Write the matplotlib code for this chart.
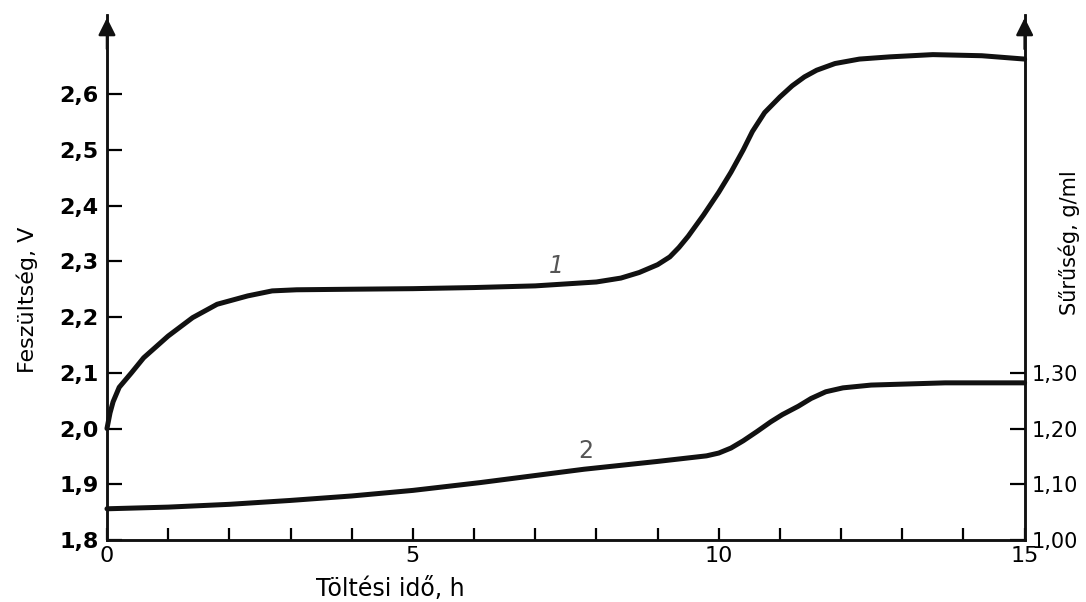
import matplotlib
matplotlib.use('Agg')
from matplotlib import pyplot as plt

plt.rcParams['font.family'] = ['DejaVu Sans']

# curve 1: cell voltage (V) vs charging time (h)
time_voltage = [0, 0.05, 0.1, 0.2, 0.4, 0.6, 1.0, 1.4, 1.8, 2.3, 2.7, 3.1, 4, 5, 6, 7, 8,
                8.4, 8.7, 9.0, 9.2, 9.35, 9.5, 9.75, 10.0, 10.2, 10.4, 10.55, 10.75, 11.0,
                11.2, 11.4, 11.6, 11.9, 12.3, 12.8, 13.5, 14.3, 15]
voltage = [2.00, 2.028, 2.048, 2.074, 2.10, 2.127, 2.166, 2.199, 2.223, 2.238, 2.247, 2.249,
           2.25, 2.251, 2.253, 2.256, 2.263, 2.270, 2.280, 2.294, 2.308, 2.325, 2.345, 2.383,
           2.424, 2.46, 2.50, 2.533, 2.567, 2.595, 2.615, 2.631, 2.643, 2.655, 2.663, 2.667,
           2.671, 2.669, 2.663]

# curve 2: electrolyte density (g/ml) vs charging time (h)
time_density = [0, 1, 2, 3, 4, 5, 6.1, 7.8, 9.0, 9.8, 10.0, 10.2, 10.4, 10.63, 10.85,
                11.04, 11.3, 11.51, 11.75, 12.03, 12.49, 13.7, 15]
density = [1.056, 1.059, 1.064, 1.071, 1.079, 1.089, 1.103, 1.127, 1.141, 1.151, 1.156,
           1.165, 1.178, 1.195, 1.212, 1.225, 1.240, 1.254, 1.266, 1.273, 1.278, 1.282, 1.282]

voltage_ticks = [1.8, 1.9, 2.0, 2.1, 2.2, 2.3, 2.4, 2.5, 2.6]
density_ticks = [1.00, 1.10, 1.20, 1.30]
hour_ticks = list(range(16))


def comma(v, digits):
    return f'{v:.{digits}f}'.replace('.', ',')


fig = plt.figure(figsize=(10.86, 6.02), dpi=100)
ax = fig.add_axes([0.0985, 0.103, 0.845, 0.872])
ax2 = ax.twinx()

ink = '#111111'
ax.plot(time_voltage, voltage, color=ink, lw=3.6, solid_joinstyle='round', solid_capstyle='round', clip_on=False)
ax2.plot(time_density, density, color=ink, lw=3.6, solid_joinstyle='round', solid_capstyle='round', clip_on=False)

ax.set_xlim(0, 15)
ax.set_ylim(1.8, 2.742)
ax2.set_ylim(1.0, 1.942)

for a in (ax, ax2):
    a.spines['top'].set_visible(False)
    for s in ('left', 'right', 'bottom'):
        a.spines[s].set_linewidth(1.8)
        a.spines[s].set_color(ink)

ax.set_xticks(hour_ticks)
ax.set_xticklabels([str(h) if h % 5 == 0 else '' for h in hour_ticks], fontsize=16)
ax.set_yticks(voltage_ticks)
ax.set_yticklabels([comma(v, 1) for v in voltage_ticks], fontsize=16, fontweight='bold')
ax2.set_yticks(density_ticks)
ax2.set_yticklabels([comma(v, 2) for v in density_ticks], fontsize=15)

ax.tick_params(axis='x', direction='in', length=9, width=1.6, pad=4)
ax.tick_params(axis='y', direction='in', length=11, width=1.6, pad=6)
ax2.tick_params(axis='y', direction='in', length=11, width=1.6, pad=5)

# arrow heads on the vertical axes
for x in (0, 1):
    ax.annotate('', xy=(x, 1.0), xytext=(x, 0.93), xycoords='axes fraction',
                arrowprops=dict(arrowstyle='-|>', color=ink, lw=1.8, mutation_scale=26),
                annotation_clip=False)

ax.set_ylabel('Feszültség, V', fontsize=16)
ax.yaxis.set_label_coords(-0.075, 0.457)
ax2.set_ylabel('Sűrűség, g/ml', fontsize=15)
ax2.yaxis.set_label_coords(1.037, 0.566)
ax.set_xlabel('Töltési idő, h', fontsize=17)
ax.xaxis.set_label_coords(0.309, -0.07)

ax.text(7.34, 2.292, '1', fontsize=17, color='#555555', ha='center', va='center', style='italic')
ax2.text(7.83, 1.159, '2', fontsize=17, color='#555555', ha='center', va='center')

plt.savefig('out.png', dpi=100)
